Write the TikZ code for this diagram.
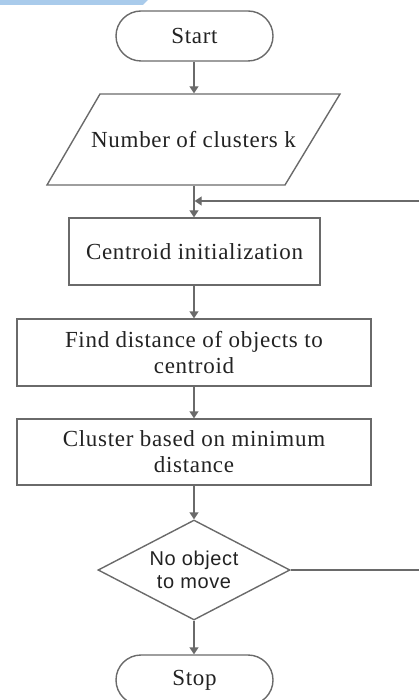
\documentclass[tikz,border=0pt]{standalone}
\usepackage{fontspec}
\setmainfont{Liberation Serif}
\newfontfamily\serifsp[LetterSpace=3]{Liberation Serif}
\newfontfamily\arialfont[LetterSpace=3]{Liberation Sans}
\usetikzlibrary{shapes.geometric,arrows.meta}
\definecolor{linegray}{HTML}{6A6A6A}
\definecolor{banner}{HTML}{A9CBEB}
\definecolor{txt}{HTML}{222222}
\tikzset{
  flowbox/.style={draw=linegray, line width=1.4pt, rectangle, align=center, text=txt, font=\serifsp\fontsize{23}{26}\selectfont, inner sep=0pt},
  term/.style={flowbox, rounded corners=25pt, minimum width=157pt, minimum height=50pt},
  decide/.style={draw=linegray, line width=1.4pt, diamond, aspect=1.92, minimum width=192pt, minimum height=100pt, inner sep=0pt, align=center, text=txt, font=\arialfont\fontsize{20}{23}\selectfont},
  flowarrow/.style={draw=linegray, line width=1.4pt, -{Triangle[length=7pt,width=9pt]}},
  flowline/.style={draw=linegray, line width=1.4pt}
}
\begin{document}
\begin{tikzpicture}[x=1pt,y=-1pt]
\useasboundingbox (0,0) rectangle (419,700);
\clip (0,0) rectangle (419,700);
\fill[banner] (0,0) -- (148,0) -- (143,5) -- (0,5) -- cycle;
\node[term] (start) at (194.5,36) {Start};
\node[flowbox, draw=none, minimum width=293pt, minimum height=91pt] (input) at (193.5,139.5) {Number of clusters k};
\draw[flowline] (100,94) -- (340,94) -- (285,185) -- (47,185) -- cycle;
\node[flowbox, minimum width=251pt, minimum height=67pt] (cent) at (194.5,251.5) {Centroid initialization};
\node[flowbox, minimum width=354pt, minimum height=67pt] (find) at (194,352.5) {Find distance of objects to\\centroid};
\node[flowbox, minimum width=354pt, minimum height=66pt] (clus) at (194,452) {Cluster based on minimum\\distance};
\node[decide] (dec) at (194,570) {No object\\to move};
\node[term] (stop) at (194.5,680) {Stop};
\coordinate (join) at (194,201);
\coordinate (r1) at (420,570);
\coordinate (r2) at (420,201);
\draw[flowarrow] (start.south -| join) -- (input.north -| join);
\draw[flowarrow] (input.south -| join) -- (cent.north -| join);
\draw[flowarrow] (cent.south -| join) -- (find.north -| join);
\draw[flowarrow] (find.south -| join) -- (clus.north -| join);
\draw[flowarrow] (clus.south -| join) -- (dec.north);
\draw[flowarrow] (dec.south) -- (stop.north -| join);
\draw[flowline] (dec.east) -- (r1);
\draw[flowarrow] (r2) -- ([xshift=0.7pt]join);
\end{tikzpicture}
\end{document}
